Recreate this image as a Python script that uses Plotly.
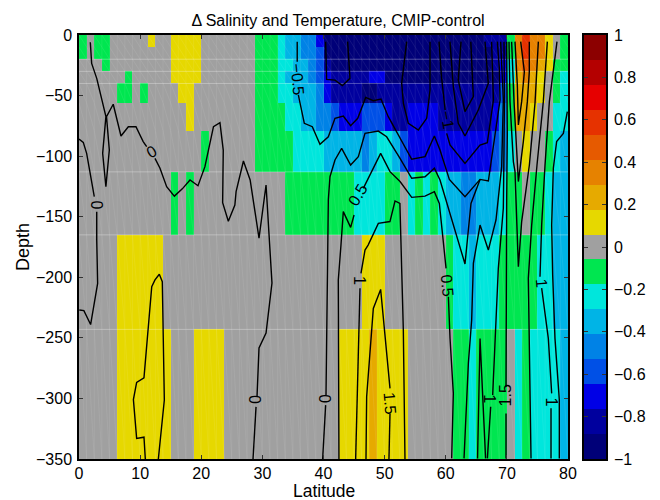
import plotly.graph_objects as go

# ---------- grid ----------
lat_edges = [i * 1.25 for i in range(65)]
depth_edges = [0, -10, -20, -30, -40, -56, -79, -113, -165, -243, -350]
seam_depths = [-20, -30, -40, -113, -165, -243]
bin_width = 2 / 17

# colour-bin number read for every cell of each depth row (0 = grey band)
row_0 = [-1, 0, -1, -1] + [0]*5 + [1] + [0]*2 + [1]*4 + [0]*7 + [-1]*3 + [-2, -3, -3, -4, -4, -6] + [-8]*21 + [-7]*3 + [-1, 3, 5, 3, 3, 1, 0, -1]
row_1 = [-1, 0, -1, -1] + [0]*8 + [1]*4 + [0]*7 + [-1]*3 + [-2, -3, -3, -4, -4, -5] + [-8]*22 + [-7]*2 + [-1, 3, 5, 3, 3, 1, 0, -1]
row_2 = [0]*3 + [-1] + [0]*8 + [1]*4 + [0]*7 + [-1]*3 + [-2, -2, -3, -3, -4, -5, -7] + [-8]*21 + [-7, -6, -2, 3, 4, 3, 2, 1, -1, -1]
row_3 = [0]*6 + [-1] + [0]*5 + [1]*4 + [0]*7 + [-1]*3 + [-2, -3, -3, -3, -4, -5, -6] + [-7]*5 + [-6]*2 + [-8]*15 + [-6, -2, 2, 3, 2, 1, 0, -1, -2]
row_4 = [0]*5 + [-1, -1, 0, -1] + [0]*4 + [1]*2 + [0]*8 + [-1]*3 + [-2, -2, -3, -3, -3, -4, -6] + [-7]*4 + [-8]*2 + [-7]*16 + [-5, -1, 2, 2, 2, 1, 0, -1, -2]
row_5 = [0]*14 + [1] + [0]*8 + [-1]*4 + [-2, -2, -3, -3, -4, -4, -5, -6, -6, -6, -5, -5, -5, -6, -7, -7] + [-6]*4 + [-7]*7 + [-6, -4, -1, 2, 2, 1, 0, 0, -2, -2]
row_6 = [0]*16 + [-1] + [0]*6 + [-1]*5 + [-2]*4 + [-3]*5 + [-4, -3, -2, -2, -3, -5] + [-6]*11 + [-5, -4, -2, 0, 1, 0, 0, -1, -2, -3]
row_7 = [0]*12 + [-1, 0, -1] + [0]*12 + [-1]*9 + [-2]*4 + [-1, -1, 0, -2, -1, -2, -1, -2, -3, -3, -4, -4, -3, -3, -3, -2, -1, -1, 0, -1, -1, -2, -3, -3]
row_8 = [0]*5 + [1]*6 + [0]*26 + [1]*3 + [0]*8 + [-1, -2, -2, -3, -2, -2, -2] + [-1]*5 + [-2, -2, -3, -3]
row_9 = [0]*5 + [1]*7 + [0]*3 + [1]*4 + [0]*15 + [1]*4 + [2] + [1]*4 + [0]*6 + [-1, -1, -2, -1, -1, -1, -1, 0, -2, -1, -2, -2, -2, -2, -3]

band_levels = list(range(-8, 9))
band_colors = ["#000078", "#00009E", "#0000E6", "#0050E6", "#0082E6", "#00B4E6", "#00E6DC", "#00E650",
               "#A0A0A0", "#E6D800", "#E6AA00", "#E68200", "#E65A00", "#E63200", "#E60000", "#B40000", "#8C0000"]
colorbar_ticks = [-1, -0.8, -0.6, -0.4, -0.2, 0, 0.2, 0.4, 0.6, 0.8, 1]

# ---------- temperature contours (latitude, depth), None = gap for a label ----------
a_lat = [0, 0.7, 1.25, 1.8, 2.5, None, 2.9, 2.9, 3.05, 1.9, 0.8, 0.05]
a_dep = [-86, -88.6, -97.7, -114, -133.5, None, -146, -169, -205, -239, -227.5, -227]
b_lat = [1.85, 2.07, 2.9, 3.43, 4.4, 3.87, 4.4, 4.96, 4.5, 5.6, 6.87, 8.07, 9.32, 10.5, 11.07, None, 12.43, 13.25, 14.34, 15.6, 16.9, 18.16, 19.47, 20.6, 22, 23.06, 23.6, 23.5, 24.43, 25.5, 25.7, 26.9, 28, 28.63, 29.45, 30.6, 31.25, 31.57, 30.6, 29.45, 29.12, None, 28.96, 28.47]
b_dep = [-6, -23.4, -35.8, -46.8, -67.4, -97.7, -125.2, -95, -67.4, -57.2, -83.4, -75.7, -75.7, -88, -92.2, None, -101.8, -110, -125.2, -133, -127, -119.7, -124.4, -108.7, -75.7, -72.4, -95, -138.4, -153.8, -140.4, -129.3, -104, -119.7, -140.3, -167.6, -123.8, -173.4, -204.7, -246, -258.4, -298.8, None, -307, -350]
c_lat = [10.85, 10.63, 9.43, 8.9, 9.43, 10.63, 11.9, 12.43, 13.14, 13.63, 13.96, 12.98]
c_dep = [-350, -332, -333, -301, -286.7, -283, -207.7, -202.2, -197.5, -203.6, -301.3, -350]
d_lat = [39.86, 40.35, None, 40.41, 40.52, 40.63, 40.79, 40.79, 41.06, 41.88, 42.97, 44.44, 45.7, 46.79, 48.97, 50.33, 52.52, 54.43, 56.61, 58.14, 59.06, 60.43, 63.15, 64.13, 65.61]
d_dep = [-350, -305.5, None, -297.2, -243.6, -205, -161, -136, -117, -103.2, -93.6, -107.3, -100.4, -81.2, -79.3, -84, -101.8, -118.3, -117, -110, -119.7, -143, -189, -139, -119.2]
e_lat = [42.53, 42.53, 42.42, 42.86, 43.24, 44.44, 45, None, 46.51, 49.35, 50.88, 52.52, 54.43, 56.61, 58.14, 58.95, 60.05, None, 60.43, 60.7, 61.24, 60.97]
e_dep = [-350, -243.6, -202.3, -173.4, -145.8, -158.8, -148.6, None, -126.6, -97.7, -112.8, -121, -134, -133, -129.3, -139, -192.6, None, -216, -250.4, -295.8, -349.5]
f_lat = [35.7, 35.7, None, 35.88, 36.86, 38.17, 39.42, 40.79, 41.88, 43.24, 44.44, 45.6, 46.9, 48.15, 49.4, 50.6, 52.52, 54.43, 56.61, 58.14, 59.06, 60.59, 63.15, 65.61, 66.97, 68.06, 68.88, 68.77, 68.44]
f_dep = [-5.5, -22, None, -49.5, -72.9, -75.7, -90.3, -84, -68.8, -66.9, -74.9, -68.8, -51.5, -54.2, -52.8, -67.4, -85.3, -102.6, -100.4, -83.4, -95, -119.2, -133.5, -119.2, -120.5, -84, -53.7, -27.5, -5.5]
g_lat = [40.35, 40.51, 41.88, 43.08, 44.33, 43.95]
g_dep = [-5.5, -36.6, -37.2, -41.8, -35.8, -5.5]
h_lat = [53.61, 52.79, 53.07, 53.88, 55.52, 56.88, 57.43, 57.43]
h_dep = [-5.5, -39.9, -56.4, -72.9, -78.4, -68.8, -45.4, -5.5]
i_lat = [62.5, 62.05, 63.15, 64.51, 64.1]
i_dep = [-5.5, -37.2, -63.3, -50.9, -5.5]
j_lat = [60.69, 61.24, 62.05, 63.15, 65.33, 66.96, 66.42]
j_dep = [-5.5, -42.7, -72.9, -83.4, -61.9, -39.9, -5.5]
k_lat = [58.9, 59.3, 59.9, None, 60.15, 60.7, 63.15, 65.6, 66.8, 67.8, 67.5]
k_dep = [-5.5, -34.4, -61.9, None, -81.2, -90.8, -106, -90.8, -88.9, -53.7, -5.5]
w_lat = [68.98, 69.42, 69.15, 68.22, 66.97, 65.61, 64.52, 64.24, 63.7, 62.99]
w_dep = [-5.5, -53.7, -108.7, -152.7, -177.5, -156.9, -188.5, -235.3, -271, -349.5]
m_lat = [69.53, 69.6, 69.5, 69.42, 68.6, 68.06, 67.68, None, 67.35, 66.81]
m_dep = [-5.5, -53.7, -108.7, -143, -192.6, -250.4, -297.2, None, -306.9, -349.5]
n_lat = [69.97, 70.07, 69.97, 69.97, 69.86, None, 69.86, 69.86]
n_dep = [-5.5, -82.6, -134.8, -250.4, -290.3, None, -312.4, -349.5]
p_lat = [71.33, 71.71, 71.88, 72.42, 72.86, 72.26]
p_dep = [-5.5, -41.3, -74.3, -55, -30.3, -5.5]
q_lat = [70.78, 71.17, 71.88, 72.69, 73.35, 73.67, 73.67]
q_dep = [-5.5, -55, -121, -88, -55, -30.3, -5.5]
r_lat = [70.35, 70.51, 71.06, 71.33, 71.88, 72.42, 73.68, 74.6, 75.15]
r_dep = [-5.5, -55, -104.6, -112.8, -191.2, -154, -107.3, -56.4, -5.5]
s_lat = [76.62, 75.96, 74.93, 74.06, 73.51, 73.68, 73.95]
s_dep = [-5.5, -55, -107.3, -156.9, -200.9, -250.4, -349.5]
t_lat = [78.2, 76.95, 76.24, 75.69, 75.42, None, 75.69, 76.78, 77.33, None, 77.22, 77.22]
t_dep = [-5.5, -55, -107.3, -156.9, -199.5, None, -209, -250.4, -295.8, None, -308.2, -349.5]
u_lat = [79.89, 79.24, 78.14, 77.6, 77.33, 77.49, 77.87, 78.58, 78.58]
u_dep = [-63.3, -81.2, -88, -110, -156.9, -198, -250.4, -301.3, -349.5]
v_lat = [45.26, 45.86, 45.97, None, 46.13, 46.79, 47.3, 48.97, 50.87, 51.7, 52.5, 52.68, 53.06, 53.33]
v_dep = [-350, -243.6, -209, None, -196.8, -177.5, -173.4, -155.5, -154, -137, -139, -173.4, -243.6, -350]
x_lat = [46.95, 47.06, 48.15, 49.35, 50.88, None, 50.88, 50.71]
x_dep = [-350, -298.6, -225.7, -210, -291.7, None, -312.4, -350]
z_lat = [65.2, 65.61, 66.52]
z_dep = [-349.5, -250.5, -349.5]

contour_lines = [(a_lat, a_dep), (b_lat, b_dep), (c_lat, c_dep), (d_lat, d_dep), (e_lat, e_dep), (f_lat, f_dep),
                 (g_lat, g_dep), (h_lat, h_dep), (i_lat, i_dep), (j_lat, j_dep), (k_lat, k_dep), (w_lat, w_dep),
                 (m_lat, m_dep), (n_lat, n_dep), (p_lat, p_dep), (q_lat, q_dep), (r_lat, r_dep), (s_lat, s_dep),
                 (t_lat, t_dep), (u_lat, u_dep), (v_lat, v_dep), (x_lat, x_dep), (z_lat, z_dep)]

label_text = ["−0.5", "0", "0", "0", "0", "0.5", "0.5", "1", "1.5", "−1", "1", "1.5", "1", "1"]
label_lat = [35.7, 2.8, 11.94, 28.8, 40.1, 45.7, 60.3, 45.8, 50.9, 60.2, 67.2, 69.7, 77.3, 75.6]
label_dep = [-37, -140, -96, -300.5, -300, -132, -206.4, -203, -304, -70, -300.5, -297.5, -303, -204.7]
label_rot = [85, 90, -30, 90, 90, -60, 85, 90, 85, 80, 90, -90, 90, 85]

rows = [row_0, row_1, row_2, row_3, row_4, row_5, row_6, row_7, row_8, row_9]
for r in rows:
    assert len(r) == 64, len(r)
z = [[b * bin_width for b in r] for r in rows]

n = len(band_levels)
colorscale = []
for i, c in enumerate(band_colors):
    colorscale += [[i / n, c], [(i + 1) / n, c]]

BAR_EDGES = [-1 + 2 * i / n for i in range(n + 1)]

fig = go.Figure()
fig.add_trace(go.Heatmap(x=lat_edges, y=depth_edges, z=z, zmin=-1, zmax=1, colorscale=colorscale,
                         showscale=False, xaxis="x", yaxis="y", hoverongaps=False))

# faint seams of the original's triangulated surface, taken from the cell edges
sx, sy = [], []
for d in seam_depths:
    sx += [0, 80, None]
    sy += [d, d, None]
fig.add_trace(go.Scatter(x=sx, y=sy, mode="lines", line=dict(color="rgba(255,255,255,0.3)", width=1),
                         hoverinfo="skip", showlegend=False))
dx, dy = [], []
for j in range(len(depth_edges) - 1):
    for k in range(64):
        dx += [lat_edges[k], lat_edges[k + 1], None, lat_edges[k], lat_edges[k], None]
        dy += [depth_edges[j], depth_edges[j + 1], None, depth_edges[j], depth_edges[j + 1], None]
fig.add_trace(go.Scatter(x=dx, y=dy, mode="lines", line=dict(color="rgba(255,255,255,0.11)", width=0.7),
                         hoverinfo="skip", showlegend=False))

for lat, dep in contour_lines:
    fig.add_trace(go.Scatter(x=lat, y=dep, mode="lines", line=dict(color="black", width=1.4),
                             connectgaps=False, showlegend=False, hoverinfo="skip"))

for t, la, de, ro in zip(label_text, label_lat, label_dep, label_rot):
    fig.add_annotation(x=la, y=de, text=t, textangle=ro, showarrow=False, xref="x", yref="y",
                       font=dict(size=16, color="black", family="Liberation Sans"))

# colour bar as its own axes
fig.add_trace(go.Heatmap(x=[0, 1], y=BAR_EDGES, z=[[l * bin_width] for l in band_levels], zmin=-1, zmax=1,
                         colorscale=colorscale, showscale=False, xaxis="x2", yaxis="y2", hoverinfo="skip"))

font = dict(family="Liberation Sans", size=16, color="black")
axis_common = dict(showgrid=False, zeroline=False, showline=True, linecolor="black", linewidth=1.5,
                   mirror="ticks", ticks="inside", ticklen=4, tickcolor="#333333", tickfont=font, automargin=False)
# the page adds an 8 px body margin, so the figure is 652 x 492 with coordinates 8 px less than the page
plot_w = 598 - 71
fig.update_layout(
    width=652, height=492, autosize=False,
    margin=dict(l=71, r=54, t=27, b=41, pad=0, autoexpand=False),
    paper_bgcolor="white", plot_bgcolor="white", showlegend=False, font=font,
    title=dict(text="Δ Salinity and Temperature, CMIP-control", x=330 / 652, xanchor="center",
               y=1 - 12 / 492, yanchor="middle", font=dict(family="Liberation Sans", size=16, color="black")),
    xaxis=dict(domain=[0, 489 / plot_w], range=[0, 80], tickvals=[0, 10, 20, 30, 40, 50, 60, 70, 80],
               anchor="y", ticklabelstandoff=-1, **axis_common),
    yaxis=dict(domain=[0, 1], range=[-350, 0], tickvals=[0, -50, -100, -150, -200, -250, -300, -350],
               anchor="x", ticklabelstandoff=2, **axis_common),
    xaxis2=dict(domain=[505 / plot_w, 1], range=[0, 1], showticklabels=False, ticks="", showgrid=False,
                zeroline=False, showline=True, linecolor="black", linewidth=1.5, mirror=True, anchor="y2"),
    yaxis2=dict(domain=[0, 1], range=[-1, 1], side="right", tickvals=colorbar_ticks, anchor="x2",
                ticklabelstandoff=3, **axis_common),
)
fig.add_annotation(text="Latitude", xref="x domain", yref="paper", x=0.5, y=-32 / 424, yanchor="middle",
                   showarrow=False, font=dict(family="Liberation Sans", size=17.5, color="black"))
fig.add_annotation(text="Depth", xref="paper", yref="y domain", x=(23 - 79) / 527, y=0.5, xanchor="center",
                   textangle=-90, showarrow=False, font=dict(family="Liberation Sans", size=18, color="black"))
fig.write_html("out.html")
